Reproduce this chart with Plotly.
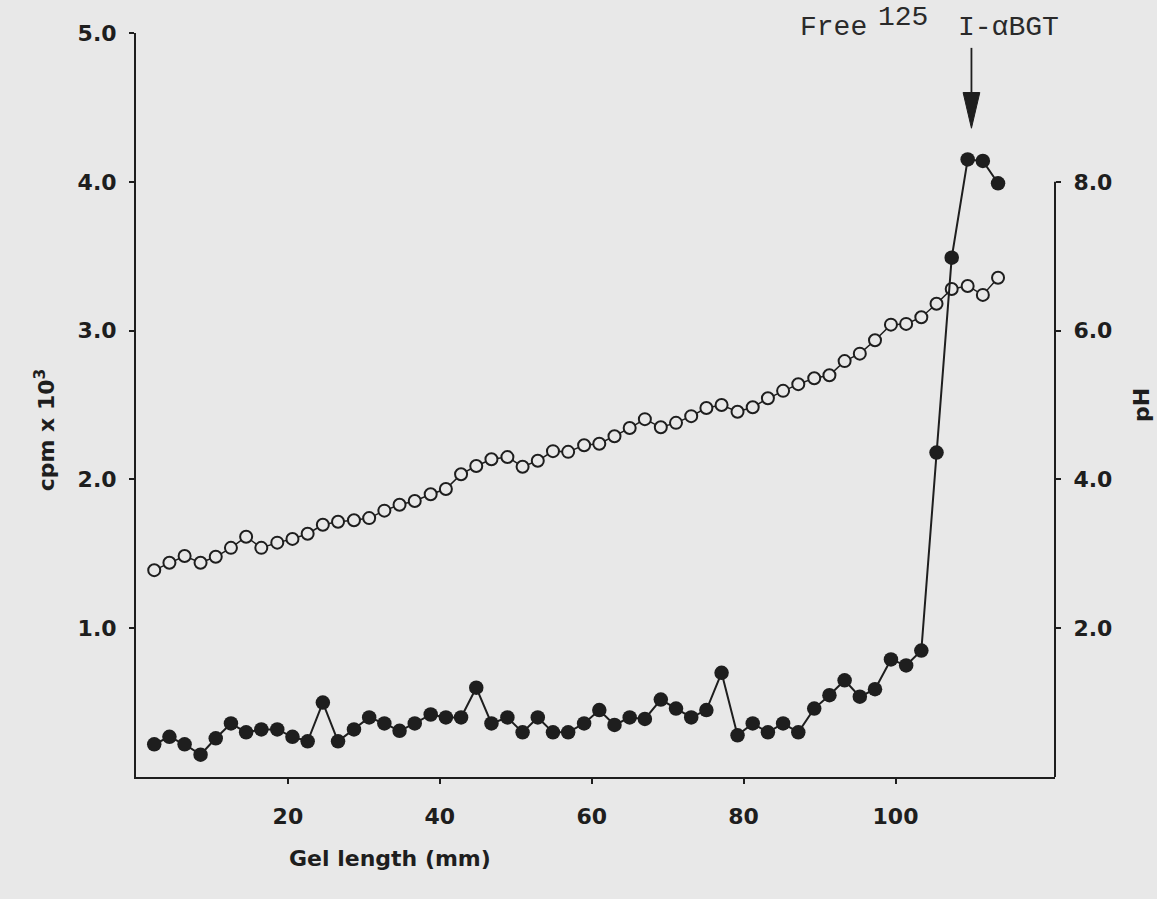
import plotly.graph_objects as go

# ---- data ----
gel_mm = [2.4, 4.4, 6.4, 8.5, 10.5, 12.5, 14.5, 16.5, 18.6, 20.6,
          22.6, 24.6, 26.6, 28.7, 30.7, 32.7, 34.7, 36.7, 38.8, 40.8,
          42.8, 44.8, 46.8, 48.9, 50.9, 52.9, 54.9, 56.9, 59.0, 61.0,
          63.0, 65.0, 67.0, 69.1, 71.1, 73.1, 75.1, 77.1, 79.2, 81.2,
          83.2, 85.2, 87.2, 89.3, 91.3, 93.3, 95.3, 97.3, 99.4, 101.4,
          103.4, 105.4, 107.4, 109.5, 111.5, 113.5]

cpm_k = [0.22, 0.27, 0.22, 0.15, 0.26, 0.36, 0.30, 0.32, 0.32, 0.27,
         0.24, 0.50, 0.24, 0.32, 0.40, 0.36, 0.31, 0.36, 0.42, 0.40,
         0.40, 0.60, 0.36, 0.40, 0.30, 0.40, 0.30, 0.30, 0.36, 0.45,
         0.35, 0.40, 0.39, 0.52, 0.46, 0.40, 0.45, 0.70, 0.28, 0.36,
         0.30, 0.36, 0.30, 0.46, 0.55, 0.65, 0.54, 0.59, 0.79, 0.75,
         0.85, 2.18, 3.49, 4.15, 4.14, 3.99]

ph = [2.78, 2.88, 2.97, 2.88, 2.96, 3.08, 3.23, 3.08, 3.15, 3.20,
      3.27, 3.39, 3.43, 3.45, 3.48, 3.58, 3.66, 3.71, 3.80, 3.87,
      4.07, 4.18, 4.27, 4.30, 4.17, 4.25, 4.38, 4.37, 4.46, 4.48,
      4.58, 4.69, 4.81, 4.70, 4.76, 4.85, 4.96, 5.00, 4.91, 4.97,
      5.09, 5.19, 5.28, 5.36, 5.40, 5.59, 5.69, 5.87, 6.08, 6.09,
      6.18, 6.36, 6.56, 6.60, 6.48, 6.71]

x_ticks = [20, 40, 60, 80, 100]
cpm_ticks = [1, 2, 3, 4, 5]
cpm_ticktext = ["1.0", "2.0", "3.0", "4.0", "5.0"]
ph_ticks = [2, 4, 6, 8]
ph_ticktext = ["2.0", "4.0", "6.0", "8.0"]

# arrow marking free 125I-aBGT (data coords: mm, cpm x 10^3)
arrow_x = 110.0
arrow_tail = 4.90
arrow_head_base = 4.60
arrow_tip = 4.36
arrow_halfw = 1.1

BG = "#e8e8e8"
INK = "#1e1e1e"
SANS = "DejaVu Sans"
MONO = "Liberation Mono"

fig = go.Figure()

fig.add_trace(go.Scatter(
    x=gel_mm, y=ph, yaxis="y", mode="lines+markers",
    line=dict(color=INK, width=1.5),
    marker=dict(symbol="circle", size=12, color=BG, line=dict(color=INK, width=2)),
    showlegend=False, hoverinfo="skip"))

fig.add_trace(go.Scatter(
    x=gel_mm, y=cpm_k, yaxis="y2", mode="lines+markers",
    line=dict(color=INK, width=2),
    marker=dict(symbol="circle", size=14.5, color=INK),
    showlegend=False, hoverinfo="skip"))

tickfont = dict(family=SANS, size=22, color=INK, weight="bold")

fig.update_layout(
    width=1157, height=899,
    margin=dict(l=136, r=102, t=33, b=122),
    paper_bgcolor=BG, plot_bgcolor=BG,
    showlegend=False,
    xaxis=dict(range=[0, 121], tickvals=x_ticks, ticktext=[str(v) for v in x_ticks],
               showline=True, linecolor=INK, linewidth=2, ticks="outside",
               ticklen=5, tickwidth=1.5, tickcolor=INK, showgrid=False,
               zeroline=False, tickfont=tickfont, ticklabelstandoff=14,
               anchor="y", fixedrange=True),
    yaxis=dict(range=[0, 10], side="right", anchor="x", tickvals=ph_ticks,
               ticktext=ph_ticktext, showline=False, ticks="outside",
               ticklen=5, tickwidth=1.5, tickcolor=INK, showgrid=False,
               zeroline=False, tickfont=tickfont, ticklabelstandoff=8),
    yaxis2=dict(range=[0, 5], side="left", overlaying="y", anchor="x",
                tickvals=cpm_ticks, ticktext=cpm_ticktext, showline=True,
                linecolor=INK, linewidth=2, ticks="outside", ticklen=5,
                tickwidth=1.5, tickcolor=INK, showgrid=False, zeroline=False,
                tickfont=tickfont, ticklabelstandoff=8),
)

# right (pH) axis line spans only 0..8
fig.add_shape(type="line", xref="paper", yref="y", x0=1, x1=1, y0=0, y1=8,
              line=dict(color=INK, width=2))

# arrow
fig.add_shape(type="line", xref="x", yref="y2", x0=arrow_x, x1=arrow_x,
              y0=arrow_tail, y1=arrow_head_base, line=dict(color=INK, width=1.8))
fig.add_shape(type="path", xref="x", yref="y2",
              path=f"M {arrow_x - arrow_halfw},{arrow_head_base} L {arrow_x + arrow_halfw},{arrow_head_base} L {arrow_x},{arrow_tip} Z",
              fillcolor=INK, line=dict(color=INK, width=1))

title_font = dict(family=SANS, size=22, color=INK, weight="bold")
mono_font = dict(family=MONO, size=28, color="#2a2a2a")

fig.add_annotation(text="cpm x 10<sup>3</sup>", xref="paper", yref="paper",
                   x=-0.099, y=0.466, textangle=-90, showarrow=False,
                   font=title_font, xanchor="center", yanchor="middle")
fig.add_annotation(text="pH", xref="paper", yref="paper",
                   x=1.0936, y=0.50, textangle=-90, showarrow=False,
                   font=title_font, xanchor="center", yanchor="middle")
fig.add_annotation(text="Gel length (mm)", xref="paper", yref="paper",
                   x=0.2764, y=-0.109, showarrow=False,
                   font=title_font, xanchor="center", yanchor="middle")
fig.add_annotation(text="Free", xref="paper", yref="paper",
                   x=(833 - 136) / 919, y=(777 - 27) / 744, showarrow=False,
                   font=mono_font, xanchor="center", yanchor="middle")
fig.add_annotation(text="125", xref="paper", yref="paper",
                   x=(903 - 136) / 919, y=(777 - 17) / 744, showarrow=False,
                   font=mono_font, xanchor="center", yanchor="middle")
fig.add_annotation(text="I-αBGT", xref="paper", yref="paper",
                   x=(1008 - 136) / 919, y=(777 - 27) / 744, showarrow=False,
                   font=mono_font, xanchor="center", yanchor="middle")

fig.write_html(
    "out.html",
    config={"displayModeBar": False},
    post_script=f"document.body.style.margin='0';document.body.style.background='{BG}';",
)
